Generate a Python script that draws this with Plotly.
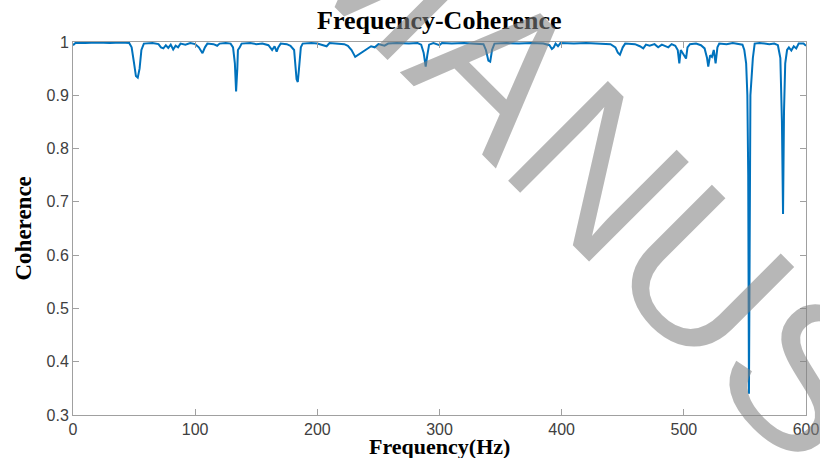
import plotly.graph_objects as go

# Frequency (Hz) and coherence values
freq = [0, 2, 10, 20, 30, 40, 46, 48, 50, 51.5, 53, 54.5, 56, 58, 65, 70, 72, 74, 76, 78,
        80, 82, 84, 86, 88, 92, 96, 100, 103, 106, 108, 110, 115, 118, 120, 125, 129, 131,
        132.5, 133.5, 134.5, 135, 136.5, 138, 145, 150, 155, 160, 163, 165, 166.7, 168, 170,
        175, 178, 181, 183, 184, 185, 186.5, 188, 195, 200, 205, 207.6, 210, 218, 222, 225,
        228, 231, 233, 236, 240, 244, 247, 250, 255, 258, 265, 275, 282, 285, 287, 288.7,
        290, 291.5, 295, 300, 302, 310, 320, 330, 336, 338, 340, 341.5, 343, 345, 355, 365,
        375, 385, 390, 392, 393.5, 395, 397, 399, 410, 420, 430, 440, 444, 446, 447.7, 450,
        452, 460, 464, 466.8, 469, 472, 476, 479, 482, 485, 487.3, 490, 493, 495, 496.3,
        497.5, 499, 501.8, 503, 505, 510, 514, 517, 519, 520, 521.5, 523, 524.5, 526, 527.5,
        529, 535, 540, 545, 548, 549.5, 551, 552, 552.7, 553.3, 553.8, 554.5, 555.5, 556.5,
        558, 562, 566, 570, 574, 577, 579, 580.3, 581.2, 582, 583, 584.5, 586, 588, 590, 592,
        594, 598, 600]
coherence = [0.994, 0.998, 0.998, 0.999, 0.998, 0.999, 0.998, 0.99, 0.96, 0.936, 0.933, 0.95,
             0.985, 0.997, 0.998, 0.996, 0.99, 0.988, 0.994, 0.989, 0.995, 0.986, 0.993, 0.99,
             0.997, 0.995, 0.998, 0.996, 0.99, 0.979, 0.99, 0.997, 0.996, 0.993, 0.997, 0.998,
             0.997, 0.99, 0.96, 0.907, 0.95, 0.985, 0.99, 0.997, 0.998, 0.996, 0.997, 0.994,
             0.985, 0.992, 0.982, 0.99, 0.997, 0.996, 0.993, 0.985, 0.93, 0.925, 0.95, 0.99,
             0.997, 0.998, 0.997, 0.994, 0.992, 0.998, 0.997, 0.996, 0.993, 0.985, 0.972,
             0.975, 0.98, 0.987, 0.992, 0.99, 0.996, 0.993, 0.997, 0.998, 0.997, 0.998, 0.995,
             0.98, 0.954, 0.975, 0.995, 0.998, 0.994, 0.998, 0.997, 0.998, 0.997, 0.996, 0.985,
             0.965, 0.963, 0.985, 0.997, 0.998, 0.997, 0.998, 0.997, 0.994, 0.987, 0.99, 0.997,
             0.992, 0.998, 0.997, 0.998, 0.997, 0.996, 0.99, 0.98, 0.976, 0.99, 0.997, 0.996,
             0.992, 0.988, 0.995, 0.993, 0.996, 0.99, 0.995, 0.993, 0.99, 0.996, 0.993, 0.985,
             0.96, 0.985, 0.98, 0.969, 0.99, 0.996, 0.997, 0.994, 0.988, 0.97, 0.954, 0.975,
             0.972, 0.985, 0.96, 0.99, 0.997, 0.996, 0.998, 0.996, 0.995, 0.985, 0.96, 0.90,
             0.75, 0.34, 0.72, 0.90, 0.935, 0.97, 0.997, 0.998, 0.997, 0.996, 0.997, 0.994,
             0.97, 0.85, 0.677, 0.87, 0.96, 0.985, 0.99, 0.984, 0.992, 0.988, 0.997, 0.997,
             0.993]

x_ticks = [0, 100, 200, 300, 400, 500, 600]
y_ticks = [0.3, 0.4, 0.5, 0.6, 0.7, 0.8, 0.9, 1.0]
y_tick_labels = ["0.3", "0.4", "0.5", "0.6", "0.7", "0.8", "0.9", "1"]

title_text = "Frequency-Coherence"
x_title = "Frequency(Hz)"
y_title = "Coherence"
watermark = "MANUSCRIPT"

SERIF = "Liberation Serif, Times New Roman, serif"
SANS = "Liberation Sans, Arial, Helvetica, sans-serif"
AXIS_GRAY = "#a0a0a0"
TICK_TEXT = "#404040"

fig = go.Figure()
fig.add_trace(go.Scatter(x=freq, y=coherence, mode="lines",
                         line=dict(color="#0072BD", width=2), showlegend=False,
                         hoverinfo="skip"))

axis_common = dict(showgrid=False, zeroline=False, showline=True, linecolor=AXIS_GRAY,
                   linewidth=1, mirror="ticks", ticks="inside", ticklen=6,
                   tickcolor=AXIS_GRAY, tickwidth=1, automargin=False,
                   tickfont=dict(family=SANS, size=16, color=TICK_TEXT))

fig.update_xaxes(range=[0, 600], tickvals=x_ticks, **axis_common)
fig.update_yaxes(range=[0.3, 1.0], tickvals=y_ticks, ticktext=y_tick_labels, **axis_common)

fig.update_layout(
    width=820, height=458,
    margin=dict(l=73, r=14, t=42, b=43, autoexpand=False),
    paper_bgcolor="white", plot_bgcolor="white",
    annotations=[
        dict(text="<b>%s</b>" % title_text, x=0.5, y=1, xref="paper", yref="paper",
             yanchor="middle", xanchor="center", yshift=22, showarrow=False,
             font=dict(family=SERIF, size=26, color="black")),
        dict(text="<b>%s</b>" % x_title, x=0.5, y=0, xref="paper", yref="paper",
             yanchor="middle", xanchor="center", yshift=-31, showarrow=False,
             font=dict(family=SERIF, size=22, color="black")),
        dict(text="<b>%s</b>" % y_title, x=0, y=0.5, xref="paper", yref="paper",
             yanchor="middle", xanchor="center", xshift=-50, textangle=-90,
             showarrow=False, font=dict(family=SERIF, size=23, color="black")),
        dict(text=watermark, x=1.003, y=0.095, xref="paper", yref="paper",
             xanchor="center", yanchor="middle", textangle=45, showarrow=False,
             font=dict(family=SANS, size=205, color="rgba(128,128,128,0.57)")),
    ],
)

fig.write_html("out.html")
